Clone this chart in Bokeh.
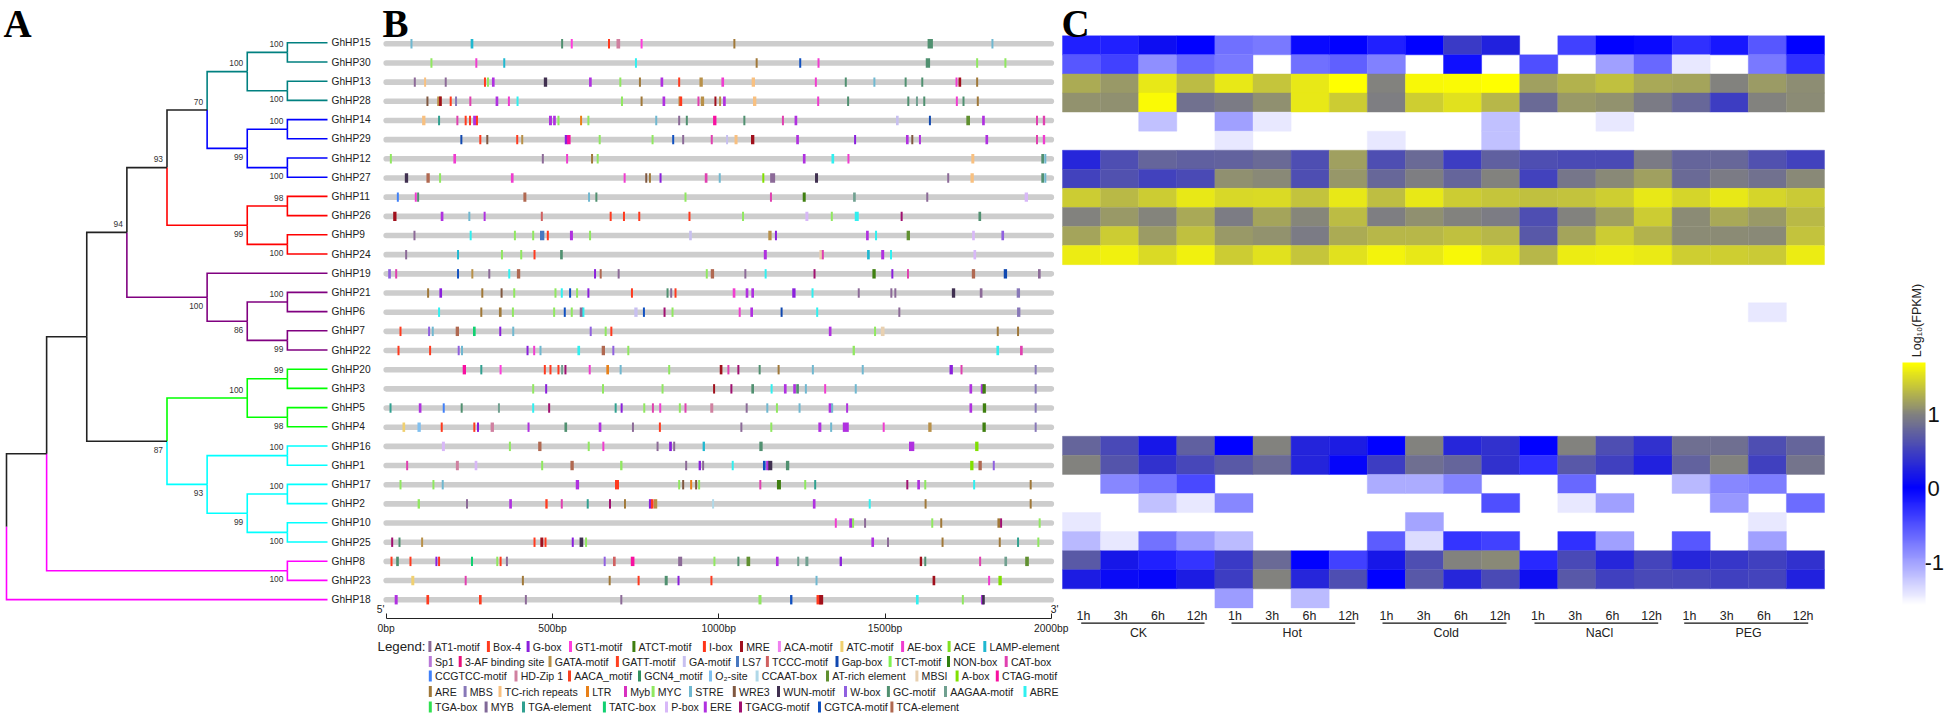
import numpy as np
from math import nan as N
from bokeh.plotting import figure
from bokeh.embed import file_html
from bokeh.resources import INLINE
from bokeh.core.properties import value
from bokeh.models import (Range1d, LinearAxis, FixedTicker, PrintfTickFormatter, LinearColorMapper,
                          ColorBar, ColumnDataSource)
from bokeh.transform import transform

# ---------- DATA ----------
genes = ["GhHP15","GhHP30","GhHP13","GhHP28","GhHP14","GhHP29","GhHP12","GhHP27","GhHP11","GhHP26",
         "GhHP9","GhHP24","GhHP19","GhHP21","GhHP6","GhHP7","GhHP22","GhHP20","GhHP3","GhHP5",
         "GhHP4","GhHP16","GhHP1","GhHP17","GhHP2","GhHP10","GhHP25","GhHP8","GhHP23","GhHP18"]

# tree: tip name, or (bootstrap, label side, colour, children)
TEAL, BLUE, RED, PURP, GREEN, CYAN, MAG, BLK = "#008080","#0000ff","#ff0000","#800080","#00ff00","#00ffff","#ff00ff","#222222"
tree = (None, 0, BLK, [
    (None, 0, BLK, [
        (None, 0, BLK, [
            (94, 1, BLK, [
                (93, 1, BLK, [
                    (70, 1, BLK, [
                        (100, 1, TEAL, [(100, 1, TEAL, ["GhHP15","GhHP30"]), (100, -1, TEAL, ["GhHP13","GhHP28"])]),
                        (99, -1, BLUE, [(100, 1, BLUE, ["GhHP14","GhHP29"]), (100, -1, BLUE, ["GhHP12","GhHP27"])]),
                    ]),
                    (99, -1, RED, [(98, 1, RED, ["GhHP11","GhHP26"]), (100, -1, RED, ["GhHP9","GhHP24"])]),
                ]),
                (100, -1, PURP, ["GhHP19",
                    (86, -1, PURP, [(100, 1, PURP, ["GhHP21","GhHP6"]), (99, -1, PURP, ["GhHP7","GhHP22"])])]),
            ]),
            (87, -1, BLK, [
                (100, 1, GREEN, [(99, 1, GREEN, ["GhHP20","GhHP3"]), (98, -1, GREEN, ["GhHP5","GhHP4"])]),
                (93, -1, CYAN, [
                    (100, 1, CYAN, ["GhHP16","GhHP1"]),
                    (99, -1, CYAN, [(100, 1, CYAN, ["GhHP17","GhHP2"]), (100, -1, CYAN, ["GhHP10","GhHP25"])]),
                ]),
            ]),
        ]),
        (100, -1, MAG, ["GhHP8","GhHP23"]),
    ]),
    "GhHP18",
])
# depth (column in the cladogram) of each internal node, in pre-order
node_depths = [0, 1, 2, 3, 4, 5, 6, 7, 7, 6, 7, 7, 6, 7, 7, 5, 6, 7, 7, 4, 6, 7, 7, 5, 7, 6, 7, 7, 7]

# promoter sites: (bp, motif[, length in bp])
HP15_sites = [(76,"STRE"),(258,"LAMP",8),(529,"GC"),(558,"GT1"),(670,"Box4"),(698,"HD",11),(768,"GT1"),(1047,"ARE"),(1636,"GC",16),(1823,"STRE")]
HP30_sites = [(136,"MYC"),(271,"AE"),(355,"LAMP"),(751,"ABRE"),(1114,"ARE"),(1245,"CGTCA"),(1300,"AE"),(1629,"GC",13),(1777,"MYC"),(1862,"MYC")]
HP13_sites = [(86,"AT1"),(117,"TC"),(179,"AT1"),(297,"Box4"),(306,"MYC"),(322,"ERE",8),(479,"WUN",10),(614,"ERE",8),(704,"MYC"),(763,"ARE"),(829,"ERE",8),(881,"Box4"),(947,"GATA",10),(1012,"AE",8),(1104,"TC",10),(1292,"AE"),(1382,"GC"),(1468,"STRE"),(1562,"GC"),(1612,"GC"),(1715,"AE"),(1725,"MRE",8),(1777,"ARE")]
HP28_sites = [(124,"WRE3"),(160,"GATA",13),(163,"MRE",8),(194,"Box4"),(210,"MBS"),(253,"CAT"),(333,"ERE",8),(369,"AE"),(395,"ABRE"),(709,"MYC"),(768,"ARE"),(835,"ERE",8),(882,"GATA"),(886,"Box4",8),(939,"CAT"),(951,"GATA",10),(990,"MRE"),(1004,"GATA"),(1017,"ERE",8),(1108,"TC",10),(1299,"AE"),(1389,"GC"),(1570,"GC"),(1596,"AAGAA"),(1618,"GC"),(1716,"AE"),(1736,"GC"),(1779,"ARE")]
HP14_sites = [(113,"TC",10),(159,"TGAe"),(214,"CAT"),(239,"Box4"),(252,"Box4"),(266,"ERE",9),(273,"Box4"),(494,"ERE",9),(506,"ERE",8),(518,"MYC"),(586,"LTR"),(608,"MYC"),(812,"STRE"),(881,"AT1"),(904,"GC"),(988,"CTAG",10),(1077,"GC"),(1193,"CAT"),(1232,"ERE",8),(1537,"GA",8),(1635,"Gap"),(1750,"ATr",11),(1796,"ERE",8),(1957,"CAT"),(1978,"CAT",7)]
HP29_sites = [(226,"Gap"),(283,"Box4"),(304,"WRE3"),(394,"Box4"),(409,"GATA"),(541,"Gbox",8),(549,"CTAG",11),(642,"MYC"),(801,"MYC"),(863,"CGTCA"),(893,"AT1"),(979,"CAT"),(1025,"GA"),(1052,"TC",9),(1102,"MRE",10),(1237,"ERE",8),(1410,"Gbox"),(1567,"ERE",8),(1582,"WRE3"),(1605,"ERE"),(1806,"ERE",8),(1957,"CAT"),(1978,"AE",7)]
HP12_sites = [(14,"MYC"),(206,"AE",8),(471,"AT1"),(544,"AE"),(619,"ARE"),(636,"MYC"),(1257,"ERE",8),(1343,"ABRE",8),(1390,"AE"),(1764,"TC",9),(1974,"GC",8),(1982,"STRE")]
HP27_sites = [(61,"WUN",10),(126,"TCA",10),(162,"MYC"),(379,"AE",8),(717,"AE"),(782,"WRE3"),(793,"ARE"),(825,"Gbox"),(962,"CAT",8),(1003,"STRE"),(1134,"Abox"),(1162,"AT1",15),(1294,"WUN",9),(1690,"AT1"),(1762,"TC",10),(1974,"GC",8),(1982,"STRE")]
HP11_sites = [(35,"CCG"),(89,"AE"),(96,"GC"),(417,"TCA",9),(610,"STRE"),(632,"GC"),(900,"MYC"),(1157,"CAT"),(1257,"ATCT",9),(1408,"AAGAA",8),(1627,"AT1"),(1925,"Pbox",10)]
HP26_sites = [(26,"MRE",10),(168,"ERE",8),(250,"STRE"),(296,"ERE"),(468,"TCCC"),(675,"Box4"),(715,"Box4"),(761,"Box4"),(912,"Box4"),(1073,"MYC"),(1265,"Pbox",9),(1340,"MYC"),(1415,"ABRE",12),(1550,"TGACG"),(1785,"GC",8)]
HP9_sites = [(85,"AT1"),(254,"ABRE"),(387,"MYC"),(442,"MYC"),(469,"LS7",13),(486,"Box4"),(557,"ERE",9),(613,"MYC"),(915,"GA",8),(1154,"GATA",10),(1172,"Gbox"),(1447,"ERE",8),(1473,"ABRE"),(1570,"ATr",10),(1766,"Pbox",8),(1854,"Wbox",8)]
HP24_sites = [(60,"AT1"),(216,"LAMP"),(348,"MYC"),(406,"MYC"),(446,"Box4"),(527,"GC",8),(1140,"ERE",9),(1307,"MBSI",9),(1313,"CAT"),(1450,"LAMP",8),(1493,"ERE",9),(1518,"ABRE"),(1770,"Pbox",8)]
HP19_sites = [(10,"Wbox",8),(30,"CAT"),(216,"CGTCA"),(259,"GATA"),(310,"AT1"),(370,"ABRE"),(398,"TCA",10),(628,"Gbox"),(645,"TCA"),(699,"AT1"),(964,"MYC"),(981,"TCA",10),(1080,"AT1"),(1141,"ABRE"),(1288,"TGACG"),(1467,"ATCT",10),(1522,"Gbox"),(1569,"CAT"),(1766,"TCA",10),(1862,"Gap",10),(1964,"AT1",8)]
HP21_sites = [(126,"ARE"),(164,"Gbox",8),(289,"ARE"),(347,"WRE3"),(385,"MYC"),(509,"MYC"),(528,"ABRE"),(553,"CGTCA"),(574,"MYC"),(608,"Gbox"),(739,"Box4"),(846,"GC"),(857,"AT1"),(870,"Box4"),(1046,"AE",8),(1085,"ERE",8),(1102,"ERE",8),(1226,"Gbox",10),(1282,"ABRE"),(1421,"AT1"),(1519,"AT1"),(1531,"AT1"),(1706,"WUN",10),(1789,"AT1",8),(1901,"MBS",10)]
HP6_sites = [(159,"ABRE"),(286,"ARE"),(343,"ARE",8),(381,"MYC"),(505,"MYC"),(537,"CGTCA"),(558,"MYC"),(587,"AT1",10),(593,"ABRE"),(751,"GA",10),(775,"CGTCA"),(837,"TGACG"),(861,"MYC"),(1063,"AE"),(1099,"ERE",8),(1189,"Gap"),(1296,"ABRE"),(1543,"AT1"),(1902,"MBS",10)]
HP7_sites = [(43,"Box4"),(129,"Wbox"),(140,"STRE"),(214,"TCA",10),(265,"TATC",8),(343,"Gbox"),(382,"STRE"),(615,"Wbox"),(660,"MYC"),(677,"Box4"),(1335,"ERE",8),(1470,"MYC"),(1493,"MBSI",11),(1839,"ARE"),(1900,"ARE")]
HP22_sites = [(37,"Box4"),(132,"Box4"),(218,"Wbox"),(228,"STRE"),(425,"Gbox"),(445,"AE"),(464,"STRE"),(579,"ABRE",8),(653,"TCA",10),(683,"Wbox"),(728,"MYC"),(1406,"MYC",7),(1839,"ABRE",8),(1910,"CAT",8)]
HP20_sites = [(235,"CTAG",10),(286,"TGAe"),(344,"GT1"),(477,"Box4"),(494,"Box4"),(518,"Box4"),(529,"AAGAA"),(539,"TGACG"),(612,"AE"),(666,"LTR",8),(705,"STRE"),(851,"MYC"),(1007,"MRE",8),(1029,"CAT"),(1059,"TGACG"),(1123,"GC"),(1180,"ARE"),(1283,"STRE"),(1433,"STRE"),(1699,"Gbox",10),(1730,"CAT"),(1953,"MBS")]
HP3_sites = [(442,"MYC"),(481,"Gbox"),(652,"MYC"),(831,"MYC"),(986,"MRE"),(1038,"TGACG"),(1102,"GC",8),(1159,"ABRE"),(1200,"ERE",8),(1228,"ERE",8),(1237,"GC",8),(1262,"STRE"),(1320,"AE"),(1412,"STRE"),(1758,"ERE",8),(1793,"ERE",10),(1798,"ATCT",10),(1953,"MBS")]
HP5_sites = [(13,"TGAe"),(102,"ERE",8),(173,"CCG"),(227,"GC"),(339,"AAGAA"),(442,"ABRE"),(490,"TGACG"),(690,"TGAe"),(708,"Gbox"),(776,"MYC"),(802,"CAT"),(824,"AE"),(883,"MYC"),(900,"CAT"),(979,"HD",9),(1084,"AT1"),(1146,"STRE"),(1175,"MYC"),(1243,"STRE"),(1335,"ERE",9),(1341,"STRE"),(1386,"ERE"),(1758,"ERE",8),(1799,"ATCT",10),(1953,"MBS")]
HP4_sites = [(53,"ATC",8),(99,"O2",10),(167,"Box4"),(265,"Box4"),(276,"Gbox"),(319,"HD",10),(428,"ERE"),(540,"GC",8),(643,"ERE",8),(742,"AT1"),(823,"Box4"),(1068,"AT1"),(1158,"MYC"),(1304,"ERE",9),(1338,"STRE"),(1382,"ERE",18),(1496,"AE"),(1635,"GATA",10),(1798,"ATCT",10),(1953,"MBS")]
HP16_sites = [(172,"Pbox",9),(372,"MYC"),(462,"TCA",10),(609,"MYC"),(653,"AE"),(816,"AT1"),(855,"Gbox",8),(866,"AT1"),(955,"LAMP",7),(1127,"GC",10),(1580,"ERE",16),(1776,"Abox",10)]
HP1_sites = [(63,"CAT"),(214,"HD",9),(270,"Pbox",8),(469,"MYC"),(559,"TCA",10),(707,"MYC",7),(902,"AT1"),(943,"Gbox",7),(953,"AT1"),(1042,"ABRE"),(1137,"CGTCA",8),(1147,"ERE",9),(1155,"WUN",12),(1207,"GC",10),(1761,"Abox",10),(1786,"TCA",10),(1827,"Wbox")]
HP17_sites = [(43,"MYC"),(142,"MYC"),(170,"STRE"),(575,"ERE",10),(694,"Box4",12),(881,"MYC"),(893,"WRE3"),(917,"LTR"),(932,"WRE3"),(941,"MYC"),(1125,"CAT"),(1181,"ATCT",12),(1260,"MYC"),(1290,"TGAe"),(1567,"TGACG"),(1601,"ERE",8),(1621,"MYC"),(1768,"ABRE"),(1938,"ARE")]
HP2_sites = [(98,"MYC",7),(243,"AT1"),(374,"ERE",8),(482,"Box4",7),(528,"CAT"),(606,"TGAe"),(673,"TGACG"),(718,"ARE"),(794,"Gbox",8),(800,"Box4",8),(810,"GATA",10),(983,"CCAAT"),(1287,"ERE",8),(1454,"ABRE"),(1622,"ARE"),(1938,"ARE")]
HP10_sites = [(1352,"AE"),(1397,"ERE",9),(1404,"MYC"),(1440,"AT1"),(1642,"MYC"),(1669,"ARE"),(1842,"ARE",8),(1849,"TGACG"),(1965,"MYC")]
HP25_sites = [(18,"TGACG"),(40,"GC"),(108,"GATA"),(446,"Box4"),(468,"MRE",9),(479,"Box4"),(561,"Gbox"),(587,"WUN",11),(601,"MYC"),(1463,"ERE",8),(1509,"AT1"),(1673,"ARE"),(1845,"ARE"),(1900,"TGAe"),(1961,"MYC")]
HP8_sites = [(16,"Box4"),(34,"GC",8),(73,"Box4"),(151,"Gbox"),(159,"Box4"),(258,"TATC"),(334,"MYC"),(344,"Box4"),(363,"AT1"),(657,"Wbox"),(686,"TCCC",8),(741,"CTAG",11),(884,"AT1",12),(987,"MYC"),(1059,"GC"),(1089,"ATr",11),(1176,"ERE",8),(1239,"AAGAA"),(1265,"AAGAA",9),(1367,"Gbox",7),(1608,"MRE",7),(1621,"GC"),(1786,"CAT"),(1863,"AAGAA",8),(1927,"ATr",11)]
HP23_sites = [(80,"ATC",9),(239,"CAT"),(411,"ARE"),(672,"ARE"),(759,"Box4"),(842,"GC",9),(879,"Gbox"),(978,"Box4"),(1294,"STRE"),(1647,"MRE",8),(1813,"AE"),(1846,"Abox",10)]
HP18_sites = [(30,"ERE",9),(125,"Box4",8),(283,"Box4",8),(420,"AT1"),(707,"AT1"),(1124,"MYC",9),(1218,"CGTCA",7),(1303,"Box4",18),(1308,"MRE",12),(1597,"ABRE",8),(1734,"MYC"),(1793,"ERE",9),(1796,"WUN",8)]

# expression Log10(FPKM), CK / Hot / Cold / NaCl / PEG x 1h 3h 6h 12h
HP15_expr = [-.2,-.2,.1,0,-.7,-.75,-.05,0,-.2,0,.45,.25,N,-.4,0,-.05,-.3,-.15,-.55,0]
HP30_expr = [-.55,-.4,-.9,-.65,-.75,N,-.7,-.6,-.8,N,-.1,N,-.5,N,-1.0,-.65,-1.45,N,-.75,-.3]
HP13_expr = [1.24,1.13,1.58,1.33,1.58,1.38,1.58,1.72,1.0,1.66,1.68,1.72,1.17,1.28,1.36,1.22,1.2,1.0,1.15,1.07]
HP28_expr = [1.1,1.08,1.68,.87,.96,1.08,1.57,1.42,.98,1.43,1.53,1.3,.82,1.14,1.1,.95,.8,.47,1.0,1.06]
HP14_expr = [N,N,-1.2,N,-1.0,-1.45,N,N,N,N,N,-1.2,N,N,-1.45,N,N,N,N,N]
HP29_expr = [N,N,N,N,-1.45,N,N,N,-1.45,N,N,-1.2,N,N,N,N,N,N,N,N]
HP12_expr = [.3,.6,.78,.75,.76,.82,.6,1.17,.6,.82,.47,.75,.6,.58,.58,.95,.78,.8,.63,.52]
HP27_expr = [.52,.63,.52,.58,1.08,1.05,.6,1.12,.8,.98,.78,1.0,.52,.92,1.05,1.17,.83,.95,.88,1.05]
HP11_expr = [1.42,1.32,1.42,1.57,1.48,1.5,1.37,1.57,1.34,1.57,1.42,1.38,1.35,1.37,1.43,1.57,1.47,1.57,1.47,1.4]
HP26_expr = [1.0,1.13,1.02,1.23,.97,1.2,1.03,1.33,.98,1.08,1.0,.97,.6,1.0,1.17,1.42,1.06,1.22,1.13,1.32]
HP9_expr = [1.2,1.42,1.15,1.36,1.13,1.1,.96,1.24,1.3,1.3,1.35,1.3,.68,1.2,1.42,1.28,1.06,1.06,1.05,1.37]
HP24_expr = [1.6,1.62,1.5,1.63,1.42,1.53,1.38,1.53,1.64,1.58,1.66,1.55,1.3,1.6,1.61,1.59,1.43,1.43,1.4,1.6]
HP19_expr = [N]*20
HP21_expr = [N]*20
HP6_expr = [N,N,N,N,N,N,N,N,N,N,N,N,N,N,N,N,N,N,-1.45,N]
HP7_expr = [N]*20
HP22_expr = [N]*20
HP20_expr = [N]*20
HP3_expr = [N]*20
HP5_expr = [N]*20
HP4_expr = [N]*20
HP16_expr = [.78,.57,.18,.75,0,1.0,.28,.22,0,1.0,.3,.38,0,1.0,.6,.38,.86,.86,.6,.78]
HP1_expr = [1.0,.65,.38,.55,.7,.82,.28,.03,.47,.86,.78,.38,-.3,.68,.5,.25,.76,1.0,.5,.9]
HP17_expr = [N,-.85,-.72,-.45,N,N,N,N,-1.07,-1.07,-.82,N,N,-.65,N,N,-1.15,-.85,-.78,N]
HP2_expr = [N,N,-1.2,-1.45,-.85,N,N,N,N,N,N,-.5,N,-1.45,-1.0,N,N,-.95,N,-.68]
HP10_expr = [-1.45,N,N,N,N,N,N,N,N,-1.03,N,N,N,N,N,N,N,N,-1.45,N]
HP25_expr = [-1.15,-1.45,-.72,-.97,-1.17,N,N,N,-.57,-1.38,-.33,-.4,N,-.3,-1.0,N,-.55,N,-1.0,N]
HP8_expr = [.7,.18,-.2,-.33,.45,.82,0,-.4,.18,.6,1.0,1.05,-.25,.57,.3,.53,.3,.42,.5,.38]
HP23_expr = [.22,.08,.03,.22,.48,1.0,.3,.6,0,.68,.3,.58,.1,.68,.5,.57,.55,.5,.53,.25]
HP18_expr = [N,N,N,N,-.97,N,-1.17,N,N,N,N,N,N,N,N,N,N,N,N,N]

sites_by_row = [HP15_sites,HP30_sites,HP13_sites,HP28_sites,HP14_sites,HP29_sites,HP12_sites,HP27_sites,HP11_sites,HP26_sites,
                HP9_sites,HP24_sites,HP19_sites,HP21_sites,HP6_sites,HP7_sites,HP22_sites,HP20_sites,HP3_sites,HP5_sites,
                HP4_sites,HP16_sites,HP1_sites,HP17_sites,HP2_sites,HP10_sites,HP25_sites,HP8_sites,HP23_sites,HP18_sites]
expr_by_row = [HP15_expr,HP30_expr,HP13_expr,HP28_expr,HP14_expr,HP29_expr,HP12_expr,HP27_expr,HP11_expr,HP26_expr,
               HP9_expr,HP24_expr,HP19_expr,HP21_expr,HP6_expr,HP7_expr,HP22_expr,HP20_expr,HP3_expr,HP5_expr,
               HP4_expr,HP16_expr,HP1_expr,HP17_expr,HP2_expr,HP10_expr,HP25_expr,HP8_expr,HP23_expr,HP18_expr]

time_labels = ["1h","3h","6h","12h"]
treatments = ["CK","Hot","Cold","NaCl","PEG"]
colorbar_ticks = [-1, 0, 1]

# legend, row by row: key, label, colour
legend_rows = [
 [("AT1","AT1-motif","#8c6a98"),("Box4","Box-4","#ff3a1e"),("Gbox","G-box","#8a1fdc"),("GT1","GT1-motif","#ff3cdc"),("ATCT","ATCT-motif","#3f7f10"),("Ibox","I-box","#ff3518"),("MRE","MRE","#a0101c"),("ACA","ACA-motif","#f080f0"),("ATC","ATC-motif","#f0d070"),("AE","AE-box","#f03cd0"),("ACE","ACE","#80e020"),("LAMP","LAMP-element","#20b8d0")],
 [("Sp1","Sp1","#b878d8"),("3AF","3-AF binding site","#e8107a"),("GATA","GATA-motif","#b89048"),("GATT","GATT-motif","#ff4020"),("GA","GA-motif","#c8c0f0"),("LS7","LS7","#4878c0"),("TCCC","TCCC-motif","#d06060"),("Gap","Gap-box","#1048b0"),("TCT","TCT-motif","#80f050"),("NON","NON-box","#308010"),("CAT","CAT-box","#e040b0")],
 [("CCG","CCGTCC-motif","#4080f8"),("HD","HD-Zip 1","#d080a0"),("AACA","AACA_motif","#f84020"),("GCN4","GCN4_motif","#309060"),("O2","O\u2082-site","#80c0f0"),("CCAAT","CCAAT-box","#b0d8e8"),("ATr","AT-rich element","#609030"),("MBSI","MBSI","#e8d0b0"),("Abox","A-box","#80e000"),("CTAG","CTAG-motif","#f810a0")],
 [("ARE","ARE","#a07838"),("MBS","MBS","#8878b8"),("TC","TC-rich repeats","#f8c080"),("LTR","LTR","#e88018"),("Myb","Myb","#d830c0"),("MYC","MYC","#90e860"),("STRE","STRE","#70b8d0"),("WRE3","WRE3","#805840"),("WUN","WUN-motif","#403050"),("Wbox","W-box","#9060e0"),("GC","GC-motif","#509070"),("AAGAA","AAGAA-motif","#70a090"),("ABRE","ABRE","#30f0f0")],
 [("TGAb","TGA-box","#30e050"),("MYB","MYB","#806898"),("TGAe","TGA-element","#30a090"),("TATC","TATC-box","#10d070"),("Pbox","P-box","#d8b8f8"),("ERE","ERE","#b030e0"),("TGACG","TGACG-motif","#a01070"),("CGTCA","CGTCA-motif","#1050c0"),("TCA","TCA-element","#b06850")],
]

# ---------- LAYOUT ----------
W, H = 1944, 713
SANS = "Liberation Sans"
BP0, BP_PX = 385.7, 665.1 / 2000
ROW0, ROW_PX = 43.3, 19.17
TREE_X0, TREE_DX, TREE_Y0, TREE_DY = 6.0, 40.125, 42.3, 19.2
HEAT_X0, HEAT_DX, HEAT_Y0, HEAT_DY = 1062.0, 38.1, 35.3, 19.07
legend_x = [
 [429.4,487.9,527.6,570,633.4,703.9,741,778.9,841.4,902.1,948.6,984.3],
 [429.8,459.7,549.5,616.9,683.8,737,766.9,836.5,889.6,948,1005.7],
 [429.8,515.5,569,639,710,756.6,827,916.4,956.6,996.8],
 [429.8,464.6,499.5,587,625,652.6,690,733.8,778,845,887.9,945,1024.5],
 [429.8,485.6,523,603.9,666,704.8,740,819,891.4],
]
legend_y = [646, 661, 675.5, 691, 706.5]
TIME_X0, TIME_GROUP, TIME_STEP = 1083, 151.5, 37.2
group_lines = [(1080.7,1204),(1231,1354.7),(1382,1506),(1534,1657.7),(1683.7,1807.7)]
group_centers = [1138,1291.7,1445.7,1599,1748]

p = figure(width=W, height=H, output_backend="svg", toolbar_location=None, min_border=0,
           x_axis_type=None, y_axis_type=None, outline_line_color=None, background_fill_color="white",
           margin=0,
           x_range=Range1d(-BP0 / BP_PX, (W - BP0) / BP_PX),
           y_range=Range1d((H - ROW0) / ROW_PX, -ROW0 / ROW_PX))
p.grid.visible = False
p.extra_x_ranges = {
    "tree": Range1d(-TREE_X0 / TREE_DX, (W - TREE_X0) / TREE_DX),
    "heat": Range1d(-HEAT_X0 / HEAT_DX, (W - HEAT_X0) / HEAT_DX),
    "page": Range1d(0, W),
}
p.extra_y_ranges = {
    "tree": Range1d((H - TREE_Y0) / TREE_DY, -TREE_Y0 / TREE_DY),
    "heat": Range1d((H - HEAT_Y0) / HEAT_DY, -HEAT_Y0 / HEAT_DY),
    "page": Range1d(H, 0),
}

def page_text(xs, ys, texts, size, color="#222222", font=SANS, align="center", baseline="middle", style="normal", angle=0):
    p.text(x=xs, y=ys, text=texts, x_range_name="page", y_range_name="page",
           text_font=value(font), text_font_size=size, text_color=color, text_align=align,
           text_baseline=baseline, text_font_style=style, angle=angle)

# ---------- A: tree ----------
edge_x, edge_y, edge_c = [], [], []
boot_x, boot_y, boot_t, boot_side = [], [], [], []
tip_x, tip_y, tip_t = [], [], []
depth_iter = iter(node_depths)
def layout(node):
    if isinstance(node, str):
        i = genes.index(node)
        tip_x.append(8); tip_y.append(i); tip_t.append(node)
        return 8, float(i)
    boot, side, col, kids = node
    d = next(depth_iter)
    placed = [(layout(k), k) for k in kids]
    ys = [pl[0][1] for pl in placed]
    y = (ys[0] + ys[-1]) / 2
    for (cd, cy), k in placed:
        edge_x.append([d, d, cd]); edge_y.append([y, cy, cy]); edge_c.append(col if isinstance(k, str) else k[2])
    if boot is not None:
        boot_x.append(d); boot_y.append(y); boot_t.append(str(boot)); boot_side.append(side)
    return d, y
layout(tree)
# GhHP18 hangs from the root in magenta
edge_c[[i for i, e in enumerate(edge_y) if e[-1] == genes.index("GhHP18")][0]] = MAG

p.multi_line(xs=edge_x, ys=edge_y, line_color=edge_c, line_width=1.6, line_join="miter",
             x_range_name="tree", y_range_name="tree")
p.text(x=tip_x, y=tip_y, text=tip_t, x_offset=4, x_range_name="tree", y_range_name="tree",
       text_font=value(SANS), text_font_size="10.2px", text_color="#222222", text_align="left", text_baseline="middle")
p.text(x=boot_x, y=boot_y, text=boot_t, x_offset=-4, y_offset=[-8.5 if s > 0 else 8.5 for s in boot_side],
       x_range_name="tree", y_range_name="tree",
       text_font=value(SANS), text_font_size="8.4px", text_color="#333333", text_align="right", text_baseline="middle")

# ---------- B: promoters ----------
colors = {k: c for row in legend_rows for k, _, c in row}
p.segment(x0=[0] * 30, x1=[2000] * 30, y0=list(range(30)), y1=list(range(30)), line_color="#cdcdcd",
          line_width=5.6, line_cap="round")
mx, my, mw, mc = [], [], [], []
for i, sites in enumerate(sites_by_row):
    for s in sites:
        mx.append(s[0]); my.append(i); mw.append(s[2] if len(s) > 2 else 6); mc.append(colors[s[1]])
p.rect(x=mx, y=my, width=mw, height=0.49, fill_color=mc, line_color=None)

axis = LinearAxis(fixed_location=30, ticker=FixedTicker(ticks=[0, 500, 1000, 1500, 2000]),
                  formatter=PrintfTickFormatter(format="%dbp"), bounds=(0, 2000),
                  major_tick_in=5, major_tick_out=0, minor_tick_in=0, minor_tick_out=0,
                  axis_line_color="#222222", axis_line_width=1, major_tick_line_color="#222222",
                  major_label_standoff=4, major_label_text_font=SANS, major_label_text_font_size="10.3px",
                  major_label_text_color="#222222")
p.add_layout(axis, "below")

page_text([380, 1054], [609, 609], ["5'", "3'"], "10.3px")
page_text([377], [646], ["Legend:"], "13.3px", align="left")

lx, ly, lc, lt, ltx, lty = [], [], [], [], [], []
for row, xs, y in zip(legend_rows, legend_x, legend_y):
    for (k, lab, c), x in zip(row, xs):
        lx.append(x); ly.append(y); lc.append(c); lt.append(lab); ltx.append(x + 4.7); lty.append(y + 0.3)
p.rect(x=lx, y=ly, width=3, height=11, fill_color=lc, line_color=None, x_range_name="page", y_range_name="page")
page_text(ltx, lty, lt, "10.6px", align="left")

# ---------- C: heat map ----------
stops = np.array([[255,255,255],[0,0,255],[128,128,128],[255,255,0]], float)
stop_v = [-1.6, 0.0, 1.0, 1.71]
grid = np.linspace(stop_v[0], stop_v[-1], 256)
palette = ["#%02x%02x%02x" % tuple(int(round(np.interp(v, stop_v, stops[:, j]))) for j in range(3)) for v in grid]
mapper = LinearColorMapper(palette=palette, low=stop_v[0], high=stop_v[-1], nan_color="white")

hx, hy, hv = [], [], []
for i, row in enumerate(expr_by_row):
    for j, v in enumerate(row):
        if v == v:
            hx.append(j + 0.5); hy.append(i + 0.5); hv.append(v)
src = ColumnDataSource(dict(x=hx, y=hy, v=hv))
p.rect(x="x", y="y", width=1, height=1, source=src, x_range_name="heat", y_range_name="heat",
       fill_color=transform("v", mapper), line_color=transform("v", mapper), line_width=0.4)

tx, tt = [], []
for g in range(5):
    for k, t in enumerate(time_labels):
        tx.append(TIME_X0 + g * TIME_GROUP + k * TIME_STEP + (2 if k == 3 else 0)); tt.append(t)
page_text(tx, [615.3] * len(tx), tt, "12.4px")
p.segment(x0=[a for a, b in group_lines], x1=[b for a, b in group_lines], y0=[622.7] * 5, y1=[622.7] * 5,
          line_color="#111111", line_width=1.2, x_range_name="page", y_range_name="page")
page_text(group_centers, [632.5] * 5, treatments, "12.4px")

cb = ColorBar(color_mapper=mapper, width=23, height=243, location=(1902, 108), padding=0, margin=0,
              ticker=FixedTicker(ticks=[]), major_tick_line_color=None, minor_tick_line_color=None,
              bar_line_color=None, border_line_color=None, background_fill_color=None)
p.add_layout(cb, "center")
# colour bar tick labels: 73.7 px per log10 unit, with 0 at y = 488
tick_y = [488 - 73.7 * t for t in colorbar_ticks]
page_text([1943.5], [tick_y[0]], [str(colorbar_ticks[0])], "22px", color="#111111", align="right")
page_text([1927, 1927], tick_y[1:], [str(t) for t in colorbar_ticks[1:]], "22px", color="#111111", align="left")
page_text([1916], [320], ["Log\u2081\u2080(FPKM)"], "12.5px", angle=np.pi / 2)

# ---------- panel letters ----------
page_text([3, 382, 1061], [22.5, 22.5, 22.5], ["A", "B", "C"], "39px", color="black", font="Liberation Serif",
          align="left", baseline="middle", style="bold")

open("out.html", "w").write(file_html(p, INLINE))
